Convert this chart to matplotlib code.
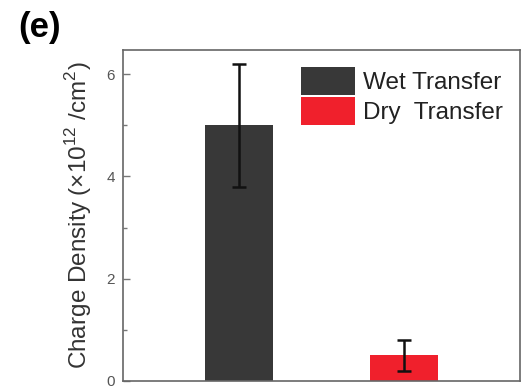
import matplotlib
matplotlib.use("Agg")
import matplotlib.pyplot as plt
from matplotlib.ticker import MultipleLocator

plt.rcParams['font.family'] = ['Liberation Sans', 'DejaVu Sans']

categories = ["Wet Transfer", "Dry  Transfer"]
values = [5.0, 0.5]
errors = [1.2, 0.3]
colors = ["#383838", "#f0202c"]

fig = plt.figure(figsize=(5.28, 3.88), dpi=100)
ax = fig.add_axes([123/528, 1-381/388, 397/528, 331/388])

xs = [1, 2]
for x, v, e, c, lab in zip(xs, values, errors, colors, categories):
    ax.bar(x, v, width=0.41, color=c, label=lab, zorder=2)
    ax.errorbar(x, v, yerr=e, fmt='none', ecolor='#111111', elinewidth=1.8,
                capsize=5, capthick=1.8, zorder=3)

ax.set_xlim(0.3, 2.7)
ax.set_ylim(0, 6.47)
ax.set_xticks([])
ax.yaxis.set_major_locator(MultipleLocator(2))
ax.yaxis.set_minor_locator(MultipleLocator(1))
ax.tick_params(axis='y', which='major', direction='in', length=5, width=1,
               colors='#777777', labelsize=11, labelcolor='#555555', pad=6)
ax.tick_params(axis='y', which='minor', direction='in', length=3, width=1, colors='#777777')
for s in ax.spines.values():
    s.set_color('#666666')
    s.set_linewidth(1.2)

ax.set_ylabel("Charge Density (\u00d710$^{\\mathregular{12}}$ /cm$^{\\mathregular{2}}$)", fontsize=17.5,
              color='#333333', labelpad=9)

leg = ax.legend(loc='upper right', frameon=False, fontsize=17.5,
                handlelength=2.2, handleheight=1.4, handletextpad=0.35,
                labelspacing=0.08, borderaxespad=0.3)
for t in leg.get_texts():
    t.set_color('#222222')

fig.text(18/528, 1-27/388, "(e)", fontsize=25, fontweight='bold', va='center', ha='left')

fig.savefig("out.png", dpi=100)
